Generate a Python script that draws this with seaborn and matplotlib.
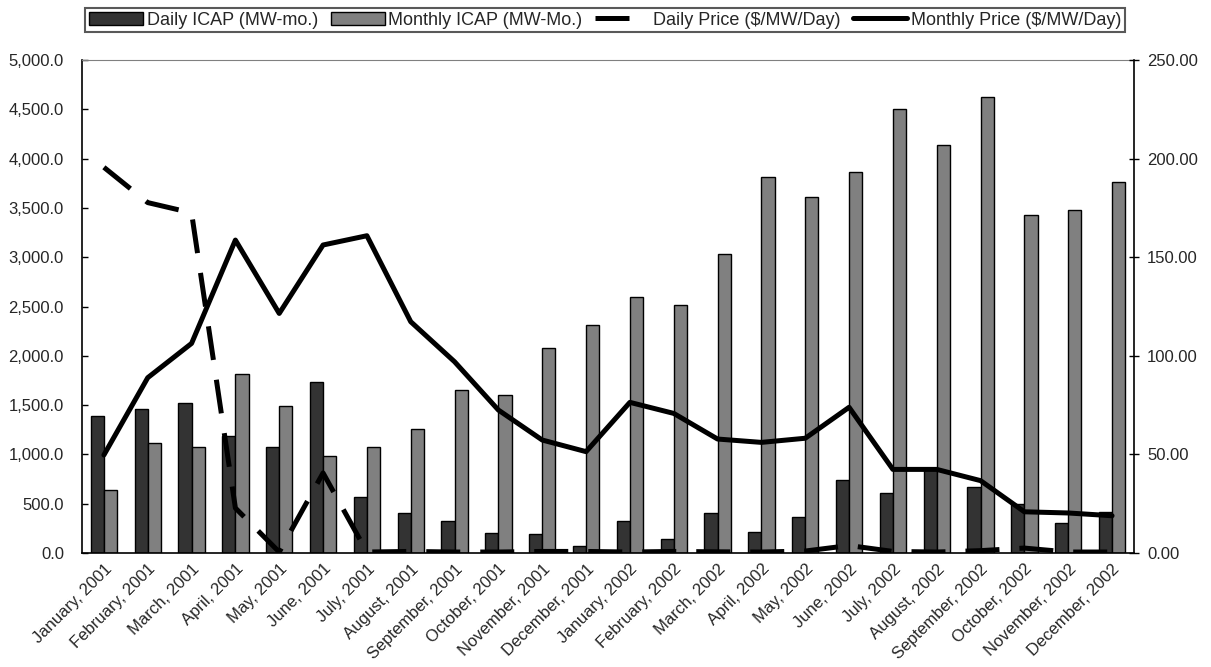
import matplotlib
matplotlib.use("Agg")
import matplotlib.pyplot as plt
from matplotlib.ticker import FuncFormatter
from matplotlib.patches import Patch
from matplotlib.lines import Line2D
import pandas as pd
import seaborn as sns
import numpy as np

months = ["January, 2001", "February, 2001", "March, 2001", "April, 2001", "May, 2001",
          "June, 2001", "July, 2001", "August, 2001", "September, 2001", "October, 2001",
          "November, 2001", "December, 2001", "January, 2002", "February, 2002",
          "March, 2002", "April, 2002", "May, 2002", "June, 2002", "July, 2002",
          "August, 2002", "September, 2002", "October, 2002", "November, 2002",
          "December, 2002"]

daily_icap = [1389, 1460, 1524, 1184, 1075, 1737, 568, 403, 322, 200, 196, 71,
              325, 145, 403, 216, 362, 740, 605, 850, 669, 497, 308, 419]
monthly_icap = [636, 1119, 1075, 1815, 1494, 987, 1078, 1261, 1650, 1599, 2080, 2310,
                2593, 2515, 3032, 3817, 3611, 3861, 4503, 4141, 4622, 3428, 3479, 3766]
daily_price = [195.6, 177.7, 172.5, 22.8, 0.5, 40.6, 0.5, 0.8, 0.5, 0.5, 0.8, 0.8,
               0.5, 0.8, 0.6, 0.5, 1.0, 3.8, 0.8, 0.5, 1.2, 2.5, 0.5, 0.5]
monthly_price = [49.7, 88.9, 106.3, 158.7, 121.5, 156.2, 160.9, 117.3, 97.0, 72.5, 57.3, 51.4,
                 76.4, 70.8, 57.8, 56.1, 58.2, 73.9, 42.4, 42.4, 36.7, 20.9, 20.3, 18.9]

series_names = ["Daily ICAP (MW-mo.)", "Monthly ICAP (MW-Mo.)",
                "Daily Price ($/MW/Day)", "Monthly Price ($/MW/Day)"]
bar_colors = ["#333333", "#808080"]

sns.set_style("white")
plt.rcParams["font.family"] = ["Liberation Sans", "DejaVu Sans"]

df = pd.DataFrame({
    "month": months * 2,
    "icap": daily_icap + monthly_icap,
    "series": [series_names[0]] * len(months) + [series_names[1]] * len(months),
})

fig = plt.figure(figsize=(12.11, 6.67), dpi=100)
ax = fig.add_axes([0.0677, 0.1709, 0.8687, 0.7391])

sns.barplot(data=df, x="month", y="icap", hue="series", palette=bar_colors,
            width=0.6, gap=0, saturation=1, edgecolor="black", linewidth=1,
            errorbar=None, legend=False, ax=ax)

ax2 = ax.twinx()
xpos = np.arange(len(months))
dash = (0, (6.8, 4))
sns.lineplot(x=xpos, y=daily_price, color="black", linewidth=3.6,
             linestyle=dash, ax=ax2)
sns.lineplot(x=xpos, y=monthly_price, color="black", linewidth=3.6, ax=ax2)

ax.set_xlim(-0.5, len(months) - 0.5)
ax.set_ylim(0, 5000)
ax2.set_ylim(0, 250)
ax.set_xlabel("")
ax.set_ylabel("")
ax2.set_ylabel("")

ax.set_yticks(np.arange(0, 5001, 500))
ax.yaxis.set_major_formatter(FuncFormatter(lambda v, p: f"{v:,.1f}"))
ax2.set_yticks(np.arange(0, 251, 50))
ax2.yaxis.set_major_formatter(FuncFormatter(lambda v, p: f"{v:.2f}"))

ax.set_xticks(xpos)
ax.set_xticklabels(months, rotation=45, ha="right", rotation_mode="anchor")
ax.set_xticks(np.arange(-0.5, len(months), 1), minor=True)
ax.tick_params(axis="x", which="major", length=0, pad=6, labelsize=12)
ax.tick_params(axis="x", which="minor", direction="inout", length=7, width=1, color="black")
ax.tick_params(axis="y", direction="in", length=4, width=1, pad=13, labelsize=12, color="black")
ax2.tick_params(axis="y", direction="inout", length=7, width=1, pad=6, labelsize=12, color="black")

for s in ["left", "bottom"]:
    ax.spines[s].set_color("black")
    ax.spines[s].set_linewidth(1.2)
ax.spines["top"].set_color("#808080")
ax.spines["right"].set_visible(False)
for s in ["left", "bottom", "top"]:
    ax2.spines[s].set_visible(False)
ax2.spines["right"].set_color("black")
ax2.spines["right"].set_linewidth(1.2)

handles = [
    Patch(facecolor=bar_colors[0], edgecolor="black", linewidth=1),
    Patch(facecolor=bar_colors[1], edgecolor="black", linewidth=1),
    Line2D([], [], color="black", linewidth=3.6, linestyle=dash),
    Line2D([], [], color="black", linewidth=3.6),
]
leg = fig.legend(handles, series_names, loc="center", bbox_to_anchor=(0.4996, 0.970),
                 ncol=4, frameon=True, fancybox=False, fontsize=13, handlelength=3.0,
                 handletextpad=0.2, columnspacing=0.7, borderpad=0.2, borderaxespad=0)
leg.get_frame().set_edgecolor("#303030")
leg.get_frame().set_linewidth(1.5)

fig.savefig("out.png", dpi=100)
